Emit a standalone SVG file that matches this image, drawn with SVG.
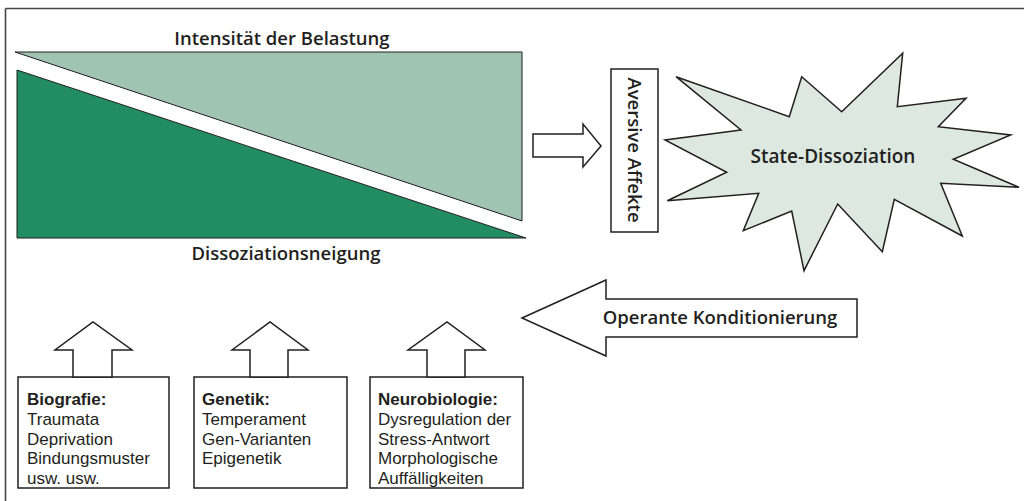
<svg xmlns="http://www.w3.org/2000/svg" width="1024" height="501" viewBox="0 0 1024 501">
<style>
text{font-family:"Open Sans","Noto Sans","Liberation Sans",sans-serif;fill:#231f20}
.t{font-family:"Liberation Sans",Arial,sans-serif;font-size:17px}
.b{font-weight:bold}
.h{font-size:18.5px;font-weight:600}
.ol{fill:#fff;stroke:#231f20;stroke-width:1.5;stroke-linejoin:miter}
</style>
<rect width="1024" height="501" fill="#fff"/>
<g id="frame" stroke="#444" stroke-width="1.6" fill="none">
<line x1="5.5" y1="8.5" x2="1024" y2="8.5"/>
<line x1="5.5" y1="8.5" x2="5.5" y2="501"/>
</g>
<g id="belastung">
<polygon points="15,52 522,52 522,221" fill="#9fc4b1" stroke="#231f20" stroke-width="1"/>
<text x="282" y="45" class="h" text-anchor="middle">Intensität der Belastung</text>
</g>
<g id="neigung">
<polygon points="17,70 526,238 17,238" fill="#228c63" stroke="#231f20" stroke-width="1"/>
<text x="286" y="260" class="h" text-anchor="middle">Dissoziationsneigung</text>
</g>
<g id="affekte">
<rect x="611" y="69" width="47" height="163" class="ol"/>
<text transform="translate(628,150) rotate(90)" class="h" text-anchor="middle">Aversive Affekte</text>
</g>
<g id="state">
<polygon points="676,76.7 789.3,116.7 801.7,76.7 841.7,111.7 902.7,53.3 897.3,106.7 966,98.3 938.3,126.7 1010.7,135 953.3,159.3 1019,187.3 940.7,183.3 962.3,236 894.3,199.3 882.3,251.7 837.7,204 804,270.7 791.7,211 743.3,230.7 758.7,193.3 667.3,200.7 726.7,172.3 665,140 741,130" fill="#dce8e0" stroke="#231f20" stroke-width="1.5" stroke-linejoin="miter"/>
<text x="833" y="163" class="h" text-anchor="middle" style="font-size:19px">State-Dissoziation</text>
</g>
<g id="biografie">
<rect x="18" y="377" width="151" height="111" class="ol"/>
<text class="t" x="27" y="405"><tspan class="b">Biografie:</tspan><tspan x="27" dy="19.8">Traumata</tspan><tspan x="27" dy="19.8">Deprivation</tspan><tspan x="27" dy="19.8">Bindungsmuster</tspan><tspan x="27" dy="19.8">usw. usw.</tspan></text>
</g>
<g id="genetik">
<rect x="194" y="377" width="153" height="111" class="ol"/>
<text class="t" x="202" y="405"><tspan class="b">Genetik:</tspan><tspan x="202" dy="19.8">Temperament</tspan><tspan x="202" dy="19.8">Gen-Varianten</tspan><tspan x="202" dy="19.8">Epigenetik</tspan></text>
</g>
<g id="neurobiologie">
<rect x="370" y="377" width="153" height="111" class="ol"/>
<text class="t" x="378" y="405"><tspan class="b">Neurobiologie:</tspan><tspan x="378" dy="19.8">Dysregulation der</tspan><tspan x="378" dy="19.8">Stress-Antwort</tspan><tspan x="378" dy="19.8">Morphologische</tspan><tspan x="378" dy="19.8">Auffälligkeiten</tspan></text>
</g>
<g id="connectors">
<polygon points="533,134 583,134 583,124 601,146 583,167 583,157 533,157" class="ol"/>
<polygon points="73,377 73,350 55,350 93,322 132,350 112,350 112,377" class="ol"/>
<polygon points="250,377 250,350 232,350 270,322 308,350 288,350 288,377" class="ol"/>
<polygon points="427,377 427,350 408,350 447,322 485,350 465,350 465,377" class="ol"/>
<g id="operante">
<polygon points="522,318 606,280 606,299 857,299 857,337 606,337 606,356" class="ol"/>
<text x="720" y="324" class="h" text-anchor="middle">Operante Konditionierung</text>
</g>
</g>
</svg>
